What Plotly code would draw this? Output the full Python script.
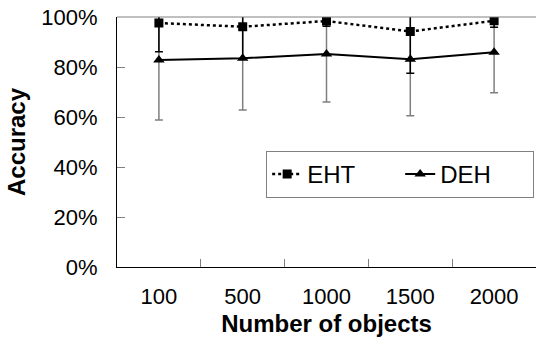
import plotly.graph_objects as go

categories = ["100", "500", "1000", "1500", "2000"]
eht_values = [97.6, 96.1, 98.4, 94.2, 98.5]
eht_errors = [11.5, 13.0, 2.1, 16.7, 2.6]
deh_values = [82.8, 83.5, 85.2, 83.1, 85.9]
deh_errors = [24.0, 20.7, 19.2, 22.6, 16.2]
y_ticks = [0, 20, 40, 60, 80, 100]
y_tick_labels = ["0%", "20%", "40%", "60%", "80%", "100%"]

FONT = "Liberation Sans, Arial, sans-serif"

fig = go.Figure()
fig.add_trace(go.Scatter(
    x=categories, y=deh_values, name="DEH", mode="lines+markers",
    line=dict(color="black", width=2),
    marker=dict(symbol="triangle-up", size=10, color="black"),
    error_y=dict(type="data", array=deh_errors, color="#7f7f7f", thickness=1.5, width=4),
    cliponaxis=True,
))
fig.add_trace(go.Scatter(
    x=categories, y=eht_values, name="EHT", mode="lines+markers",
    line=dict(color="black", width=2.5, dash="dot"),
    marker=dict(symbol="square", size=9, color="black"),
    error_y=dict(type="data", array=eht_errors, color="black", thickness=1.5, width=4),
    cliponaxis=True,
))

fig.update_layout(
    width=536, height=345,
    margin=dict(l=117, r=0, t=17, b=78),
    paper_bgcolor="white", plot_bgcolor="white",
    font=dict(family=FONT, size=22, color="black"),
    showlegend=True,
    legend=dict(
        x=0.356, y=0.464, xanchor="left", yanchor="top",
        orientation="h", traceorder="reversed",
        bordercolor="#808080", borderwidth=1,
        font=dict(family=FONT, size=24, color="black"),
        entrywidth=88, itemwidth=30,
    ),
    xaxis=dict(
        type="category", tickson="boundaries", ticks="inside", ticklen=8,
        tickcolor="#808080", showline=True, linecolor="black", linewidth=1,
        showgrid=False, range=[-0.5, 4.5], ticklabelstandoff=10,
        title=dict(text="<b>Number of objects</b>", font=dict(size=24), standoff=6),
        tickfont=dict(size=22),
    ),
    yaxis=dict(
        range=[0, 100], tickvals=y_ticks, ticktext=y_tick_labels,
        ticks="inside", ticklen=8, tickcolor="#808080",
        showline=True, linecolor="black", linewidth=1, showgrid=False,
        zeroline=False, ticklabelstandoff=14,
        title=dict(text="<b>Accuracy</b>", font=dict(size=24), standoff=8),
        tickfont=dict(size=22),
    ),
)
fig.add_shape(type="line", xref="paper", yref="paper", x0=0, x1=1, y0=1, y1=1,
              line=dict(color="#808080", width=1))

fig.write_html("out.html")
